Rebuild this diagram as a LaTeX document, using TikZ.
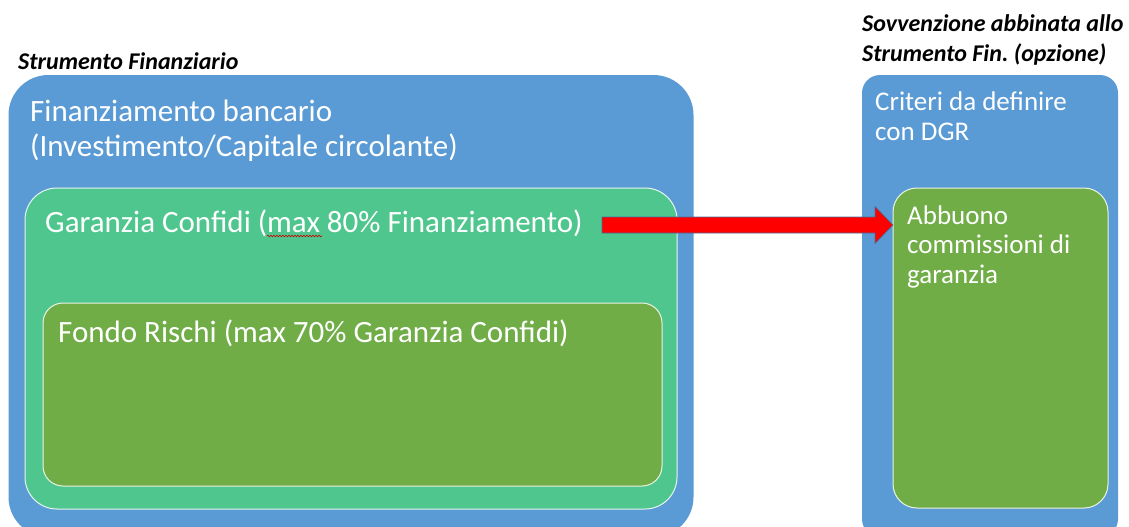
\documentclass[tikz,border=0pt]{standalone}
\usepackage{fontspec}
\setmainfont{Carlito}
\frenchspacing
\usetikzlibrary{decorations.pathmorphing}
\definecolor{pblue}{HTML}{5B9BD5}
\definecolor{pteal}{HTML}{4FC68E}
\definecolor{pgreen}{HTML}{70AD47}
\definecolor{arrowedge}{HTML}{41719C}
\tikzset{
  boxbase/.style={anchor=north west, inner sep=0pt, outer sep=0pt},
  bluebox/.style={boxbase, fill=pblue, draw=none},
  tealbox/.style={boxbase, fill=pteal, draw=white!85!pteal, line width=1pt},
  greenbox/.style={boxbase, fill=pgreen, draw=white!85!pgreen, line width=1pt},
  bigtext/.style={anchor=base west, inner sep=0pt, text=white, align=left,
    font=\fontsize{31}{35}\selectfont},
  midtext/.style={anchor=base west, inner sep=0pt, text=white, align=left,
    font=\fontsize{27}{29.5}\selectfont},
  titletext/.style={anchor=base west, inner sep=0pt, text=black, align=left,
    font=\fontsize{24}{30}\selectfont\bfseries\itshape},
}
\begin{document}
\begin{tikzpicture}[x=1pt,y=-1pt]
\useasboundingbox (0,0) rectangle (1129,527);
% left group
\node[bluebox, minimum width=685pt, minimum height=462pt, rounded corners=40pt] (fin) at (8.5,75) {};
\node[tealbox, minimum width=652pt, minimum height=321pt, rounded corners=32pt] (gar) at (25,188) {};
\node[greenbox, minimum width=619pt, minimum height=183pt, rounded corners=20pt] (fondo) at (43,303) {};
% right group
\node[bluebox, minimum width=256pt, minimum height=462pt, rounded corners=18pt] (sov) at (862,75) {};
\node[greenbox, minimum width=215pt, minimum height=320pt, rounded corners=24pt] (abb) at (893,188) {};
% titles (base = last line)
\node[titletext] (t1) at (18,70) {Strumento Finanziario};
\node[titletext] (t2) at (862,62) {Sovvenzione abbinata allo\\Strumento Fin. (opzione)};
% texts (base = last line)
\node[bigtext] (tfin) at (30,156) {Finanziamento bancario\\(Investimento/Capitale circolante)};
\node[bigtext] (tgar) at (45,232) {Garanzia Confidi (max 80\% Finanziamento)};
\node[bigtext] (tfondo) at (58,342) {Fondo Rischi (max 70\% Garanzia Confidi)};
\node[midtext] (tsov) at (875,140) {Criteri da definire\\con DGR};
\node[midtext] (tabb) at (907,283) {Abbuono\\commissioni di\\garanzia};
% spell-check squiggle under "max"
\coordinate (sq1) at (267,236);
\coordinate (sq2) at (322,236);
\draw[red!80!black, line width=0.6pt, decorate, decoration={snake, amplitude=0.8pt, segment length=3pt}] (sq1) -- (sq2);
% arrow
\coordinate (as) at (602,225);
\coordinate (at) at (abb.west |- as);
\filldraw[fill=red, draw=arrowedge, line width=0.6pt]
  ([yshift=8pt]as) -- ([xshift=-18pt,yshift=8pt]at) -- ([xshift=-18pt,yshift=18.5pt]at)
  -- (at) -- ([xshift=-18pt,yshift=-18.5pt]at) -- ([xshift=-18pt,yshift=-8pt]at)
  -- ([yshift=-8pt]as) -- cycle;
\end{tikzpicture}
\end{document}
